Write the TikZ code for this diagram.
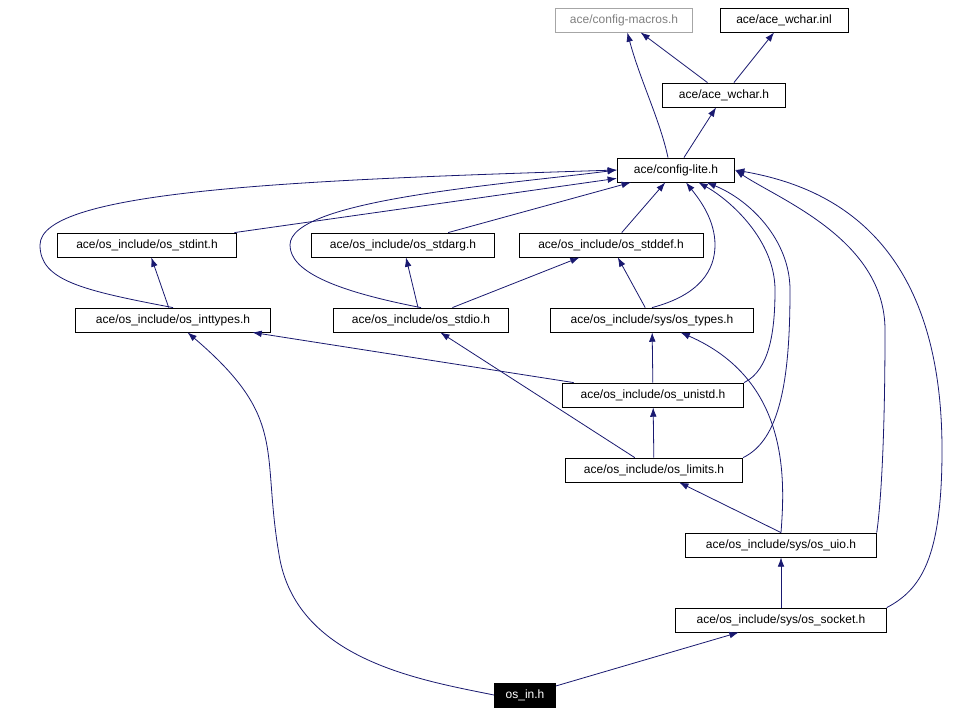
\documentclass[tikz,border=0pt]{standalone}
\usepackage{fontspec}
\setmainfont{Liberation Sans}
\usetikzlibrary{arrows.meta}
\begin{document}
\begin{tikzpicture}[x=0.75pt,y=-0.75pt,
  n/.style={draw=black,fill=white,inner sep=0pt,minimum height=18pt,font=\fontsize{9}{10}\selectfont,line width=0.6pt},
  e/.style={draw=midnightblue,line width=0.6pt,-{Latex[length=7pt,width=5pt]}}]
\definecolor{midnightblue}{HTML}{191970}
\useasboundingbox (0,0) rectangle (963,712);
\fill[white] (0,0) rectangle (963,712);
\node[n,draw=gray!70,text=gray,minimum width=103pt] (cm) at (624,20) {ace/config-macros.h};
\node[n,minimum width=96pt] (wi) at (784,20) {ace/ace\_wchar.inl};
\node[n,minimum width=92pt] (wh) at (724,95) {ace/ace\_wchar.h};
\node[n,minimum width=88pt] (cl) at (676,170) {ace/config-lite.h};
\node[n,minimum width=134pt] (si) at (147,245) {ace/os\_include/os\_stdint.h};
\node[n,minimum width=137pt] (sa) at (403,245) {ace/os\_include/os\_stdarg.h};
\node[n,minimum width=138pt] (sd) at (611,245) {ace/os\_include/os\_stddef.h};
\node[n,minimum width=146pt] (it) at (173,320) {ace/os\_include/os\_inttypes.h};
\node[n,minimum width=131pt] (so) at (421,320) {ace/os\_include/os\_stdio.h};
\node[n,minimum width=152pt] (ty) at (652,320) {ace/os\_include/sys/os\_types.h};
\node[n,minimum width=136pt] (un) at (653,395) {ace/os\_include/os\_unistd.h};
\node[n,minimum width=133pt] (li) at (654,470) {ace/os\_include/os\_limits.h};
\node[n,minimum width=143pt] (ui) at (781,545) {ace/os\_include/sys/os\_uio.h};
\node[n,minimum width=158pt] (sk) at (781,620) {ace/os\_include/sys/os\_socket.h};
\node[n,fill=black,text=white,minimum width=46pt] (in) at (525,695) {os\_in.h};
\draw[e] (wh) -- (cm);
\draw[e] (wh) -- (wi);
\draw[e] ([xshift=-6pt]cl.north) .. controls (660,120) and (640,80) .. (cm);
\draw[e] (cl) -- (wh);
\draw[e] (si) -- (cl);
\draw[e] (sa) -- (cl);
\draw[e] (sd) -- (cl);
\draw[e] (it.north) .. controls (80,290) and (40,280) .. (40,245) .. controls (40,190) and (300,180) .. (cl.west);
\draw[e] (it) -- (si);
\draw[e] (so.north) .. controls (330,290) and (290,270) .. (290,245) .. controls (290,200) and (500,185) .. (cl.west);
\draw[e] (so) -- (sa);
\draw[e] (so) -- (sd);
\draw[e] (ty.north) .. controls (700,295) and (715,270) .. (715,245) .. controls (715,220) and (700,200) .. (cl);
\draw[e] (ty) -- (sd);
\draw[e] (un.north east) .. controls (770,370) and (775,330) .. (775,290) .. controls (775,240) and (730,200) .. (cl);
\draw[e] (un) -- (it);
\draw[e] (un) -- (ty);
\draw[e] (li.north east) .. controls (780,440) and (790,380) .. (790,290) .. controls (790,240) and (750,200) .. (cl);
\draw[e] (li) -- (so);
\draw[e] (li) -- (un);
\draw[e] (ui.north east) .. controls (880,510) and (885,450) .. (885,330) .. controls (885,240) and (780,200) .. (cl.east);
\draw[e] (ui.north) -- (li);
\draw[e] (ui.north) .. controls (785,480) and (790,380) .. (ty);
\draw[e] (sk.north east) .. controls (920,590) and (942,560) .. (942,450) .. controls (942,230) and (820,185) .. (cl.east);
\draw[e] (sk) -- (ui);
\draw[e] (in.west) .. controls (420,680) and (300,660) .. (280,560) .. controls (260,450) and (290,420) .. (it);
\draw[e] (in) -- (sk);
\end{tikzpicture}
\end{document}
